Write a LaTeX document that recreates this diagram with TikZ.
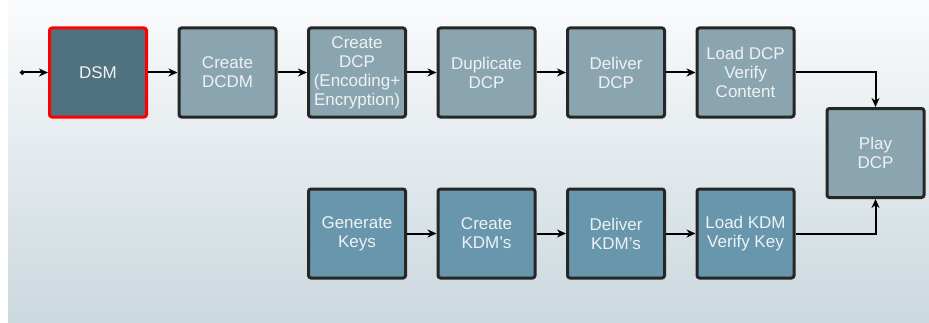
\documentclass[tikz,border=0pt]{standalone}
\usepackage{fontspec}
\setmainfont{Liberation Sans}
\usetikzlibrary{calc}
\usetikzlibrary{arrows.meta, positioning}
\definecolor{panelTop}{RGB}{250,251,252}
\definecolor{panelBot}{RGB}{203,216,222}
\definecolor{dcpFill}{RGB}{138,165,175}
\definecolor{dsmFill}{RGB}{80,114,128}
\definecolor{kdmFill}{RGB}{104,150,172}
\definecolor{boxLine}{RGB}{38,38,38}
\definecolor{boxText}{RGB}{238,242,244}
\tikzstyle{block} = [rectangle, rounded corners=2.5pt, minimum width=97pt, minimum height=89pt, inner sep=1pt, align=center, draw=boxLine, line width=3pt, fill=dcpFill, text=boxText, font=\fontsize{17}{19}\selectfont]
\tikzstyle{keyblock} = [block, fill=kdmFill]
\tikzstyle{arrow} = [line width=2pt, -{Stealth[length=9pt, width=8pt]}]

\begin{document}
\begin{tikzpicture}[x=1pt, y=1pt, node distance=29.5pt]

    % background panel
    \useasboundingbox (0,0) rectangle (929,322);
    \shade[top color=panelTop, bottom color=panelBot] (8,0) rectangle (929,322);

    % Content (DCP) chain
    \node (dsm) [block, fill=dsmFill, draw=red] at (98,249.5) {DSM};
    \node (dcdm) [block, right=of dsm] {Create\\DCDM};
    \node (dcp) [block, right=of dcdm] {Create\\DCP\\(Encoding+\\Encryption)};
    \node (dup) [block, right=of dcp] {Duplicate\\DCP};
    \node (deldcp) [block, right=of dup] {Deliver\\DCP};
    \node (loaddcp) [block, right=of deldcp] {Load DCP\\Verify\\Content};

    % Key (KDM) chain
    \node (keys) [keyblock, below=69pt of dcp] {Generate\\Keys};
    \node (kdm) [keyblock, right=of keys] {Create\\KDM’s};
    \node (delkdm) [keyblock, right=of kdm] {Deliver\\KDM’s};
    \node (loadkdm) [keyblock, right=of delkdm] {Load KDM\\Verify Key};

    % Playback
    \node (play) [block, right=30pt of {$ (loaddcp.east)!0.5!(loadkdm.east) $}] {Play\\DCP};

    \coordinate [left=28pt of dsm.west] (start);

    \draw [arrow, {Circle[length=4.5pt]}-{Stealth[length=9pt, width=8pt]}] (start) -- (dsm);
    \draw [arrow] (dsm) -- (dcdm);
    \draw [arrow] (dcdm) -- (dcp);
    \draw [arrow] (dcp) -- (dup);
    \draw [arrow] (dup) -- (deldcp);
    \draw [arrow] (deldcp) -- (loaddcp);
    \draw [arrow] (keys) -- (kdm);
    \draw [arrow] (kdm) -- (delkdm);
    \draw [arrow] (delkdm) -- (loadkdm);
    \draw [arrow] (loaddcp.east) -| (play.north);
    \draw [arrow] (loadkdm.east) -| (play.south);

\end{tikzpicture}
\end{document}
